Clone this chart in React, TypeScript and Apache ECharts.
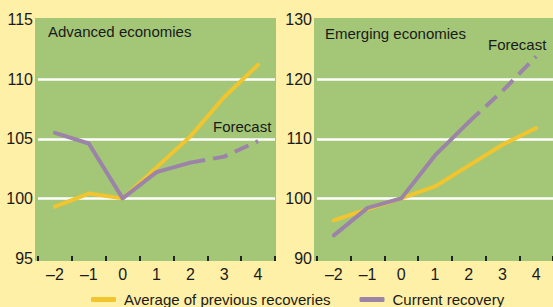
import React, { useEffect, useRef } from "react";
import * as echarts from "echarts";

const categories = ["–2", "–1", "0", "1", "2", "3", "4"];
const advAverage = [99.3, 100.4, 100, 102.6, 105.2, 108.5, 111.2];
const advCurrent = [105.5, 104.6, 100, 102.2, 103.0, null, null];
const advForecast = [null, null, null, null, 103.0, 103.5, 104.8];
const emgAverage = [96.3, 98.2, 100, 102.0, 105.5, 109.0, 111.8];
const emgCurrent = [93.8, 98.4, 100, 107.2, 112.8, null, null];
const emgForecast = [null, null, null, null, 112.8, 118.0, 123.8];

const BG = "#FEF0A6";
const GREEN = "#A3C677";
const YELLOW = "#F1C530";
const PURPLE = "#9B84A8";
const TEXT = "#1a1a1a";
const FONT = "Liberation Sans, Arial, sans-serif";

export default function App() {
  const ref = useRef<HTMLDivElement>(null);
  useEffect(() => {
    if (!ref.current) return;
    const chart = echarts.init(ref.current, null, { renderer: "svg" });
    const xAxisBase = (gridIndex: number) => ({
      type: "category",
      gridIndex,
      data: categories,
      boundaryGap: true,
      offset: 3,
      axisLine: { show: false },
      axisTick: { show: true, inside: true, length: 5, lineStyle: { color: "#222", width: 2 } },
      axisLabel: { color: TEXT, fontSize: 16, fontFamily: FONT, margin: 5 },
      splitLine: { show: false },
    });
    const yAxisBase = (gridIndex: number, min: number, max: number, interval: number) => ({
      type: "value",
      gridIndex,
      min,
      max,
      interval,
      axisLine: { show: false },
      axisTick: { show: false },
      axisLabel: { color: TEXT, fontSize: 16, fontFamily: FONT, margin: 5 },
      splitLine: {
        show: true,
        showMinLine: false,
        showMaxLine: false,
        lineStyle: { color: "#ffffff", width: 2.5 },
      },
    });
    const solid = (name: string, color: string, data: any[], idx: number) => ({
      type: "line",
      name,
      xAxisIndex: idx,
      yAxisIndex: idx,
      data,
      symbol: "none",
      connectNulls: false,
      color,
      lineStyle: { color, width: 4, cap: "round", join: "round" },
      z: 3,
    });
    const dashed = (name: string, color: string, data: any[], idx: number) => ({
      type: "line",
      name,
      xAxisIndex: idx,
      yAxisIndex: idx,
      data,
      symbol: "none",
      color,
      lineStyle: { color, width: 4, type: [15, 8], cap: "butt", join: "round" },
      z: 3,
    });
    chart.setOption({
      animation: false,
      backgroundColor: BG,
      textStyle: { fontFamily: FONT },
      grid: [
        { left: 38, top: 19.5, width: 237, height: 238.5 },
        { left: 317, top: 19.5, width: 237, height: 238.5 },
      ],
      xAxis: [xAxisBase(0), xAxisBase(1)],
      yAxis: [yAxisBase(0, 95, 115, 5), yAxisBase(1, 90, 130, 10)],
      legend: {
        left: 86,
        top: 287,
        itemWidth: 25,
        itemHeight: 5,
        itemGap: 29,
        icon: "roundRect",
        selectedMode: false,
        textStyle: { color: TEXT, fontSize: 15, fontFamily: FONT, padding: [0, 0, 0, 3] },
        data: ["Average of previous recoveries", "Current recovery"],
      },
      graphic: [
        { type: "rect", z: -10, shape: { x: 35, y: 18, width: 241, height: 243 }, style: { fill: GREEN } },
        { type: "rect", z: -10, shape: { x: 314, y: 18, width: 240, height: 243 }, style: { fill: GREEN } },
        { type: "text", x: 48, y: 31, style: { text: "Advanced economies", fill: TEXT, fontSize: 15, fontFamily: FONT, verticalAlign: "middle" } },
        { type: "text", x: 325, y: 33, style: { text: "Emerging economies", fill: TEXT, fontSize: 15, fontFamily: FONT, verticalAlign: "middle" } },
        { type: "text", x: 213, y: 126, style: { text: "Forecast", fill: TEXT, fontSize: 15, fontFamily: FONT, verticalAlign: "middle" } },
        { type: "text", x: 488, y: 44, style: { text: "Forecast", fill: TEXT, fontSize: 15, fontFamily: FONT, verticalAlign: "middle" } },
      ],
      series: [
        solid("Average of previous recoveries", YELLOW, advAverage, 0),
        solid("Current recovery", PURPLE, advCurrent, 0),
        dashed("Current recovery", PURPLE, advForecast, 0),
        solid("Average of previous recoveries", YELLOW, emgAverage, 1),
        solid("Current recovery", PURPLE, emgCurrent, 1),
        dashed("Current recovery", PURPLE, emgForecast, 1),
      ],
    });
    return () => chart.dispose();
  }, []);
  return (
    <div
      ref={ref}
      style={{ position: "absolute", left: 0, top: 0, width: 553, height: 307 }}
    />
  );
}
